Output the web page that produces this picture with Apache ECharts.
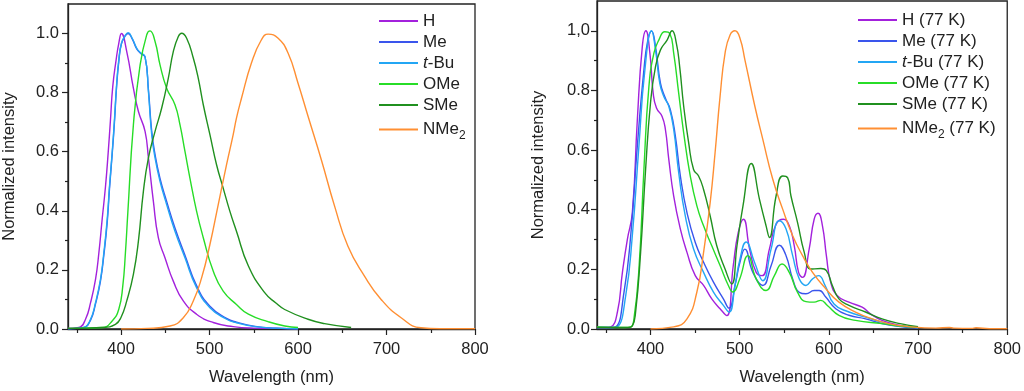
<!DOCTYPE html>
<html>
<head>
<meta charset="utf-8">
<script src="https://cdn.jsdelivr.net/npm/echarts@6/dist/echarts.min.js"></script>
<style>html,body{margin:0;padding:0;background:#fff;}#c{width:1024px;height:391px;}</style>
</head>
<body>
<div id="c"></div>
<script>
// ---------- tick labels ----------
const xTickValues = [400, 500, 600, 700, 800];
const xTickLabels = ['400', '500', '600', '700', '800'];
const xMinorTicks = [350, 450, 550, 650, 750];
const yTickValues = [0, 0.2, 0.4, 0.6, 0.8, 1.0];
const yTickLabelsLeft = ['0.0', '0.2', '0.4', '0.6', '0.8', '1.0'];
const yTickLabelsRight = ['0.0', '0.2', '0.4', '0.6', '0.8', '1,0'];
const yMinorTicks = [0.1, 0.3, 0.5, 0.7, 0.9];

// ---------- series names ----------
const namesLeft = ['H', 'Me', 't-Bu', 'OMe', 'SMe', 'NMe2'];
const namesRight = ['H (77 K)', 'Me (77 K)', 't-Bu (77 K)', 'OMe (77 K)', 'SMe (77 K)', 'NMe2 (77 K)'];
const colors = ['#a321dc', '#3a55ec', '#23a6f4', '#27dd27', '#20901f', '#ff8f33'];

// ---------- left panel (room temperature) ----------
const wlH = [340, 352.3, 359.8, 365.5, 371.1, 374.9, 378.6, 382.4, 385.4, 388, 390.6, 394.4, 397.4, 400.4, 406.4, 413.9, 419.6, 427.1, 430.9, 436.5, 442.1, 449.6, 459, 470.3, 485.3, 504.1, 526.7, 550, 575, 600];
const intH = [0.002, 0.005, 0.033, 0.089, 0.168, 0.258, 0.371, 0.483, 0.596, 0.708, 0.821, 0.911, 0.967, 1.0, 0.939, 0.815, 0.736, 0.669, 0.579, 0.432, 0.309, 0.241, 0.162, 0.095, 0.05, 0.022, 0.008, 0.003, 0.002, 0.001];

const wlMe = [340, 350, 358, 365.5, 371.1, 376.7, 380.5, 384.3, 386.9, 389.9, 392.5, 394.8, 397.4, 400.4, 404.9, 407.9, 412.4, 417.7, 422, 427.1, 430.9, 434.6, 438.4, 444, 451.5, 460.9, 472.2, 485.3, 500.4, 519.2, 530.4, 551.5, 575, 600];
const intMe = [0.001, 0.002, 0.005, 0.03, 0.085, 0.162, 0.25, 0.36, 0.475, 0.59, 0.70, 0.815, 0.905, 0.965, 0.993, 1.0, 0.983, 0.948, 0.933, 0.92, 0.81, 0.67, 0.59, 0.51, 0.432, 0.342, 0.25, 0.147, 0.077, 0.036, 0.023, 0.009, 0.003, 0.001];

const wlTBu = [340, 350, 357.9, 365.5, 371.1, 376.7, 380.5, 384.3, 386.9, 389.9, 392.5, 394.8, 397.4, 400.4, 404.9, 407.9, 412.4, 417.7, 422, 427.1, 430.9, 434.6, 438.4, 444, 451.5, 460.9, 472.2, 485.3, 500.4, 519.2, 530.4, 551.5, 575, 600];
const intTBu = [0.001, 0.002, 0.005, 0.033, 0.089, 0.168, 0.258, 0.371, 0.483, 0.596, 0.708, 0.821, 0.911, 0.967, 0.995, 1.003, 0.985, 0.95, 0.935, 0.922, 0.804, 0.658, 0.579, 0.5, 0.421, 0.331, 0.241, 0.14, 0.072, 0.033, 0.021, 0.008, 0.003, 0.001];

const wlOMe = [340, 378.6, 389.9, 397.4, 401.9, 404.9, 407.6, 413.9, 421.5, 429, 432.7, 438.4, 444, 451.5, 460.9, 466.6, 472.2, 477.8, 485.3, 492.9, 504.1, 515.4, 530.4, 543.9, 566, 585, 600];
const intOMe = [0.002, 0.005, 0.027, 0.067, 0.145, 0.258, 0.393, 0.691, 0.894, 0.996, 1.009, 0.973, 0.894, 0.815, 0.759, 0.691, 0.601, 0.511, 0.399, 0.309, 0.196, 0.128, 0.083, 0.05, 0.025, 0.01, 0.005];

const wlSMe = [340, 378.6, 393.6, 400, 406.4, 413.9, 419.6, 425.2, 430.9, 438.4, 445.9, 453.4, 459, 464.7, 468.4, 474.1, 481.6, 487.2, 492.9, 500.4, 507.9, 515.4, 522.9, 530.4, 543.9, 562.3, 575, 584.9, 611.3, 630, 660];
const intSMe = [0.002, 0.005, 0.016, 0.04, 0.095, 0.185, 0.298, 0.466, 0.579, 0.669, 0.748, 0.849, 0.939, 0.99, 1.001, 0.984, 0.917, 0.849, 0.759, 0.658, 0.556, 0.477, 0.399, 0.331, 0.213, 0.123, 0.088, 0.066, 0.033, 0.018, 0.005];

const wlNMe2 = [400, 430, 455.3, 470.3, 481.6, 491, 500.4, 509.8, 519.2, 526.7, 530.4, 536, 547.3, 558.6, 566.2, 577.5, 588.7, 600, 611.3, 626.3, 641.3, 656.4, 675.1, 693.9, 716.5, 739, 760, 800];
const intNMe2 = [0.0, 0.002, 0.01, 0.038, 0.095, 0.173, 0.286, 0.421, 0.556, 0.658, 0.714, 0.78, 0.9, 0.979, 0.998, 0.984, 0.934, 0.832, 0.72, 0.573, 0.416, 0.28, 0.179, 0.1, 0.038, 0.004, 0.001, 0.001];

// ---------- right panel (77 K) ----------
const wlH77 = [340, 350, 355.5, 362.9, 368.5, 374, 379.6, 385.2, 390.8, 394.8, 399.3, 403, 406.7, 413, 416.7, 420.5, 426, 433.5, 440.9, 450.2, 459.5, 468.7, 478, 485.5, 492.8, 498.4, 504.2, 511.1, 518.5, 525.2, 533.3, 540.8, 549, 555.6, 561.2, 566, 570.4, 577.9, 583.5, 587.9, 592.8, 597.2, 602, 609.5, 622.5, 637.3, 646.6, 659.6, 680, 700];
const intH77 = [0.005, 0.005, 0.007, 0.057, 0.19, 0.30, 0.39, 0.70, 0.947, 1.0, 0.925, 0.791, 0.741, 0.713, 0.669, 0.569, 0.446, 0.335, 0.257, 0.179, 0.146, 0.101, 0.068, 0.045, 0.213, 0.324, 0.368, 0.268, 0.19, 0.179, 0.268, 0.351, 0.368, 0.346, 0.279, 0.19, 0.173, 0.268, 0.368, 0.388, 0.346, 0.246, 0.157, 0.112, 0.09, 0.073, 0.051, 0.029, 0.012, 0.005];

const wlMe77 = [340, 355, 361, 370.3, 377.8, 385.2, 392.6, 397, 401.2, 405.6, 411.2, 416.7, 422.3, 427.9, 433.5, 440.9, 450.2, 459.5, 470.6, 481.7, 488, 495, 500, 505.8, 514.8, 525.9, 535.2, 544.5, 552, 559.4, 566.8, 574.3, 583.5, 589.1, 596.5, 607.7, 622.5, 641.1, 659.6, 680, 700];
const intMe77 = [0.005, 0.005, 0.007, 0.124, 0.313, 0.613, 0.869, 0.969, 0.999, 0.947, 0.824, 0.774, 0.735, 0.646, 0.513, 0.39, 0.29, 0.224, 0.157, 0.101, 0.07, 0.15, 0.22, 0.268, 0.19, 0.146, 0.212, 0.281, 0.246, 0.168, 0.123, 0.118, 0.129, 0.129, 0.107, 0.068, 0.046, 0.034, 0.018, 0.008, 0.003];

const wlTBu77 = [340, 358, 362.9, 372.2, 379.6, 387, 393.7, 401.2, 405.6, 410.4, 414.9, 420.5, 426, 431.6, 439, 448.3, 459.5, 470.6, 481.7, 488, 495, 500, 507.3, 516.6, 525.9, 535.2, 544.5, 552, 559.4, 566.8, 574.3, 581.7, 588.4, 595.8, 605.8, 622.5, 641.1, 659.6, 680, 700];
const intTBu77 = [0.005, 0.005, 0.007, 0.112, 0.313, 0.613, 0.869, 1.0, 0.936, 0.824, 0.78, 0.747, 0.669, 0.524, 0.379, 0.268, 0.19, 0.124, 0.079, 0.057, 0.15, 0.23, 0.292, 0.224, 0.162, 0.268, 0.363, 0.335, 0.246, 0.168, 0.146, 0.168, 0.179, 0.146, 0.084, 0.057, 0.04, 0.023, 0.01, 0.005];

const wlOMe77 = [340, 370, 377.8, 381.4, 387, 392.6, 398.2, 403.8, 409.3, 416, 421.6, 426, 431.6, 437.2, 444.6, 452, 459.5, 468.7, 478, 487.3, 492.2, 500, 509.2, 518.5, 529.6, 538.9, 547.5, 555.6, 564.9, 574.3, 583.5, 590.9, 598.3, 611.3, 629.9, 659.6, 680, 700];
const intOMe77 = [0.007, 0.005, 0.007, 0.034, 0.2, 0.535, 0.813, 0.925, 0.969, 0.997, 0.991, 0.925, 0.791, 0.658, 0.513, 0.413, 0.346, 0.279, 0.213, 0.146, 0.124, 0.168, 0.246, 0.168, 0.129, 0.179, 0.218, 0.19, 0.123, 0.092, 0.09, 0.096, 0.079, 0.046, 0.029, 0.018, 0.01, 0.005];

const wlSMe77 = [340, 375, 379.6, 383.3, 388.9, 394.5, 400, 405.6, 411.2, 418.6, 424.2, 429, 432.7, 437.2, 442.8, 448.3, 453.9, 459.5, 466.9, 474.3, 483.6, 491, 497, 503.7, 513, 522.2, 529.6, 533.3, 540.8, 548.2, 553.8, 557.5, 564.9, 572.4, 579.8, 591, 597.2, 603.9, 611.3, 622.5, 641.1, 659.6, 680, 700];
const intSMe77 = [0.005, 0.005, 0.01, 0.057, 0.257, 0.535, 0.758, 0.88, 0.936, 0.969, 1.0, 0.958, 0.88, 0.747, 0.624, 0.535, 0.513, 0.468, 0.379, 0.279, 0.201, 0.151, 0.28, 0.413, 0.555, 0.435, 0.346, 0.307, 0.446, 0.513, 0.507, 0.446, 0.357, 0.257, 0.201, 0.203, 0.196, 0.146, 0.101, 0.079, 0.057, 0.034, 0.018, 0.008];

const wlNMe277 = [400, 426, 440.9, 452, 459.5, 466.9, 472.4, 478, 483.6, 489.2, 494.7, 500.3, 505.9, 517, 526, 537.1, 548.2, 559.4, 570.5, 581.7, 596.5, 611.3, 629.9, 648.5, 667.1, 690, 720, 735, 740, 760, 765, 780, 800];
const intNMe277 = [0.0, 0.007, 0.034, 0.124, 0.257, 0.424, 0.591, 0.78, 0.925, 0.986, 1.0, 0.975, 0.902, 0.747, 0.635, 0.502, 0.402, 0.313, 0.246, 0.19, 0.135, 0.09, 0.057, 0.034, 0.018, 0.008, 0.003, 0.005, 0.003, 0.002, 0.004, 0.001, 0.001];

const leftWl = [wlH, wlMe, wlTBu, wlOMe, wlSMe, wlNMe2];
const leftInt = [intH, intMe, intTBu, intOMe, intSMe, intNMe2];
const rightWl = [wlH77, wlMe77, wlTBu77, wlOMe77, wlSMe77, wlNMe277];
const rightInt = [intH77, intMe77, intTBu77, intOMe77, intSMe77, intNMe277];

const FONT = 'Liberation Sans, Arial, Helvetica, sans-serif';
const INK = '#222';
const FS = 16.5;

function zip(a, b) { return a.map((x, i) => [x, b[i]]); }
function legendFmt(name) {
  return name.replace(/^t-/, '{i|t}-').replace('NMe2', 'NMe{s|2}');
}
const richText = {
  i: { fontStyle: 'italic', fontSize: 17, lineHeight: 18, color: INK, fontFamily: FONT },
  s: { fontSize: 12, lineHeight: 25, verticalAlign: 'bottom', color: INK, fontFamily: FONT }
};

function mainX(gi) {
  return {
    type: 'value', gridIndex: gi, min: 340, max: 800, position: 'bottom',
    axisLine: { show: true, onZero: false, lineStyle: { color: INK, width: 1.3 } },
    axisTick: { show: true, inside: false, length: 6, customValues: xTickValues, lineStyle: { color: INK, width: 1.2 } },
    axisLabel: { show: true, customValues: xTickValues, margin: 12, fontSize: FS, color: INK, fontFamily: FONT,
      formatter: v => xTickLabels[xTickValues.indexOf(Math.round(v))] },
    splitLine: { show: false },
    name: 'Wavelength (nm)', nameLocation: 'middle', nameGap: 40,
    nameTextStyle: { fontSize: FS, color: INK, fontFamily: FONT }
  };
}
function minorX(gi) {
  return {
    type: 'value', gridIndex: gi, min: 340, max: 800, position: 'bottom',
    axisLine: { show: false },
    axisTick: { show: true, length: 4, customValues: xMinorTicks, lineStyle: { color: INK, width: 1.2 } },
    axisLabel: { show: false }, splitLine: { show: false }
  };
}
function mainY(gi, labels) {
  return {
    type: 'value', gridIndex: gi, min: 0, max: 1.1, position: 'left',
    axisLine: { show: true, onZero: false, lineStyle: { color: INK, width: 1.3 } },
    axisTick: { show: true, length: 6, customValues: yTickValues, lineStyle: { color: INK, width: 1.2 } },
    axisLabel: { show: true, customValues: yTickValues, margin: gi === 0 ? 9 : 7, fontSize: FS, color: INK, fontFamily: FONT,
      formatter: v => labels[Math.round(v / 0.2)] },
    splitLine: { show: false },
    name: 'Normalized intensity', nameLocation: 'middle', nameGap: 50,
    nameTextStyle: { fontSize: FS, color: INK, fontFamily: FONT }
  };
}
function minorY(gi) {
  return {
    type: 'value', gridIndex: gi, min: 0, max: 1.1, position: 'left',
    axisLine: { show: false },
    axisTick: { show: true, length: 3, customValues: yMinorTicks, lineStyle: { color: INK, width: 1.2 } },
    axisLabel: { show: false }, splitLine: { show: false }
  };
}

const series = [];
namesLeft.forEach((n, i) => series.push({
  name: n, type: 'line', xAxisIndex: 0, yAxisIndex: 0, data: zip(leftWl[i], leftInt[i]),
  showSymbol: false, symbol: 'none', smooth: 0.5,
  lineStyle: { color: colors[i], width: 1.4 }, itemStyle: { color: colors[i] }
}));
namesRight.forEach((n, i) => series.push({
  name: n, type: 'line', xAxisIndex: 2, yAxisIndex: 2, data: zip(rightWl[i], rightInt[i]),
  showSymbol: false, symbol: 'none', smooth: 0.5,
  lineStyle: { color: colors[i], width: 1.4 }, itemStyle: { color: colors[i] }
}));

const legendCommon = {
  orient: 'vertical', icon: 'rect', itemWidth: 39, itemHeight: 2, itemGap: 3, padding: 0,
  formatter: legendFmt,
  textStyle: { fontSize: 17, lineHeight: 18, color: INK, fontFamily: FONT, rich: richText },
  selectedMode: false
};

const chart = echarts.init(document.getElementById('c'), null, { renderer: 'canvas' });
chart.setOption({
  animation: false,
  backgroundColor: '#fff',
  grid: [
    { left: 67, right: 549, top: 4, bottom: 61, show: true, borderColor: INK, borderWidth: 1.3, backgroundColor: 'transparent' },
    { left: 597, right: 14, top: 1, bottom: 61, show: true, borderColor: INK, borderWidth: 1.3, backgroundColor: 'transparent' }
  ],
  xAxis: [mainX(0), minorX(0), mainX(1), minorX(1)],
  yAxis: [mainY(0, yTickLabelsLeft), minorY(0), mainY(1, yTickLabelsRight), minorY(1)],
  legend: [
    Object.assign({}, legendCommon, { data: namesLeft, left: 379, top: 12 }),
    Object.assign({}, legendCommon, { data: namesRight, left: 858, top: 11 })
  ],
  series: series
});
</script>
</body>
</html>
